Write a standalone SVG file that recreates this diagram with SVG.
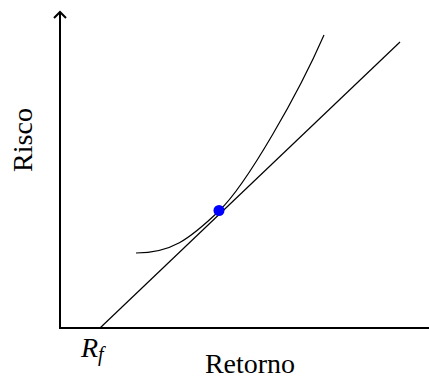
<svg xmlns="http://www.w3.org/2000/svg" width="429" height="378" viewBox="0 0 429 378">
<style>
.axis{stroke:#000;stroke-width:2;fill:none}
.thin{stroke:#000;stroke-width:1.2;fill:none}
.lbl{font-family:"Liberation Serif","Times New Roman",serif;font-size:28px;fill:#000}
</style>
<rect width="429" height="378" fill="#fff"/>
<g id="axes">
<path class="axis" d="M60,329 V12"/>
<path class="axis" d="M54,18 L60,12 L66,18"/>
<path class="axis" d="M59,328 H429"/>
</g>
<g id="connectors">
<path id="cml" class="thin" d="M100,328 L400,42"/>
<path id="frontier" class="thin" d="M136,253 C171,253 189,239.6 219,211 C247,184.3 299,92.5 324,35"/>
</g>
<g id="tangency">
<circle cx="219" cy="210.5" r="5.5" fill="#0000ff"/>
</g>
<g id="labels">
<text class="lbl" x="250" y="373" text-anchor="middle">Retorno</text>
<text class="lbl" transform="translate(32,140) rotate(-90)" text-anchor="middle">Risco</text>
<text class="lbl" x="81" y="357" font-style="italic">R<tspan font-size="20" dy="4">f</tspan></text>
</g>
</svg>
